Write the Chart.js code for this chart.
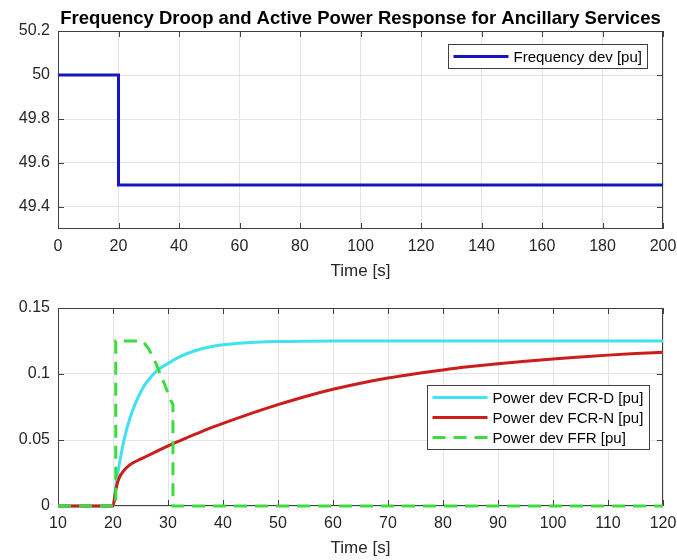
<!DOCTYPE html>
<html>
<head>
<meta charset="utf-8">
<script src="https://cdn.jsdelivr.net/npm/chart.js@4.4.0/dist/chart.umd.min.js"></script>
<style>
  html, body { margin: 0; padding: 0; background: #fff; }
  #wrap { position: relative; width: 677px; height: 560px; }
  .panel { position: absolute; left: 0; width: 677px; }
  #top { top: 0; height: 285px; }
  #bottom { top: 290px; height: 270px; }
</style>
</head>
<body>
<div id="wrap">
  <div class="panel" id="top"><canvas id="freqChart"></canvas></div>
  <div class="panel" id="bottom"><canvas id="powerChart"></canvas></div>
</div>
<script>
// Top panel: frequency step
const freqTime = [0, 20, 20, 200];
const freqValues = [50, 50, 49.5, 49.5];
const freqXTicks = [0, 20, 40, 60, 80, 100, 120, 140, 160, 180, 200];
const freqYTicks = [49.4, 49.6, 49.8, 50, 50.2];

// Bottom panel: power responses
const powerTime = [10, 20, 20.5, 21, 22, 23, 24, 25, 26, 28, 30, 32, 34, 36, 38, 40,
  45, 50, 55, 60, 65, 70, 75, 80, 85, 90, 95, 100, 105, 110, 115, 120];
const fcrD = [0, 0, 0.0146, 0.028, 0.050, 0.0655, 0.077, 0.086, 0.093, 0.1025, 0.108, 0.1128, 0.1163, 0.1189, 0.1208, 0.1221,
  0.1239, 0.1246, 0.1249, 0.125, 0.125, 0.125, 0.125, 0.125, 0.125, 0.125, 0.125, 0.125, 0.125, 0.125, 0.125, 0.125];
const fcrN = [0, 0, 0.012, 0.020, 0.027, 0.031, 0.0335, 0.0355, 0.0375, 0.0415, 0.0455, 0.0492, 0.0528, 0.0562, 0.0595, 0.0626,
  0.0700, 0.0768, 0.0830, 0.0884, 0.0930, 0.0969, 0.1002, 0.1031, 0.1056, 0.1078, 0.1097, 0.1114, 0.1129, 0.1143, 0.1155, 0.1165];
const ffrTime = [10, 20.5, 20.5, 25.4, 26.5, 27.8, 29.3, 30.5, 30.9, 30.9, 120];
const ffrValues = [0, 0, 0.125, 0.125, 0.119, 0.108, 0.093, 0.080, 0.077, 0, 0];
const powerXTicks = [10, 20, 30, 40, 50, 60, 70, 80, 90, 100, 110, 120];
const powerYTicks = [0, 0.05, 0.1, 0.15];

const FONT = '"Liberation Sans", Arial, Helvetica, sans-serif';
const AXIS_COLOR = '#404040';

function toPoints(xs, ys) {
  return xs.map((x, i) => ({ x: x, y: ys[i] }));
}

// MATLAB style box with inward ticks
const matlabAxes = {
  id: 'matlabAxes',
  beforeDatasetsDraw(chart) {
    const { ctx, chartArea: a, scales: { x, y } } = chart;
    ctx.save();
    ctx.strokeStyle = AXIS_COLOR;
    ctx.lineWidth = 1;
    ctx.beginPath();
    x.ticks.forEach(t => {
      const px = Math.round(x.getPixelForValue(t.value)) + 0.5;
      ctx.moveTo(px, a.bottom); ctx.lineTo(px, a.bottom - 6);
      ctx.moveTo(px, a.top); ctx.lineTo(px, a.top + 6);
    });
    y.ticks.forEach(t => {
      const py = Math.round(y.getPixelForValue(t.value)) + 0.5;
      ctx.moveTo(a.left, py); ctx.lineTo(a.left + 6, py);
      ctx.moveTo(a.right, py); ctx.lineTo(a.right - 6, py);
    });
    ctx.stroke();
    ctx.strokeRect(Math.round(a.left) + 0.5, Math.round(a.top) + 0.5,
      Math.round(a.width) - 1, Math.round(a.height) - 1);
    ctx.restore();
  }
};

// Title centred over the axes, like MATLAB does
const axesTitle = {
  id: 'axesTitle',
  afterDraw(chart, args, opts) {
    if (!opts.text) return;
    const { ctx, chartArea: a } = chart;
    ctx.save();
    ctx.font = 'bold 18.5px ' + FONT;
    ctx.fillStyle = '#000';
    ctx.textAlign = 'center';
    ctx.textBaseline = 'alphabetic';
    ctx.fillText(opts.text, (a.left + a.right) / 2, opts.y);
    ctx.restore();
  }
};

// Legend box inside the axes (top right)
const boxLegend = {
  id: 'boxLegend',
  afterDraw(chart, args, opts) {
    const { ctx, chartArea: a } = chart;
    const sets = chart.data.datasets;
    ctx.save();
    ctx.font = '15px ' + FONT;
    const textW = Math.max(...sets.map(d => ctx.measureText(d.label).width));
    const lineLen = 55, rowH = 20;
    const w = Math.round(5 + lineLen + 5 + textW + 6);
    const h = sets.length * rowH + 4;
    const x0 = Math.round(a.right - opts.right - w) + 0.5;
    const y0 = Math.round(a.top + opts.top) + 0.5;
    ctx.fillStyle = '#fff';
    ctx.fillRect(x0, y0, w, h);
    ctx.strokeStyle = AXIS_COLOR;
    ctx.lineWidth = 1;
    ctx.strokeRect(x0, y0, w, h);
    sets.forEach((d, i) => {
      const cy = y0 + 2 + rowH * i + rowH / 2;
      ctx.strokeStyle = d.borderColor;
      ctx.lineWidth = d.borderWidth;
      ctx.setLineDash(d.borderDash || []);
      ctx.beginPath();
      ctx.moveTo(x0 + 5, cy);
      ctx.lineTo(x0 + 5 + lineLen, cy);
      ctx.stroke();
      ctx.setLineDash([]);
      ctx.fillStyle = '#000';
      ctx.textBaseline = 'middle';
      ctx.fillText(d.label, x0 + 10 + lineLen, cy + 1);
    });
    ctx.restore();
  }
};

function xScale(min, max, ticks, titleBottomPad, height) {
  return {
    type: 'linear',
    min: min,
    max: max,
    afterBuildTicks: s => { s.ticks = ticks.map(v => ({ value: v })); },
    afterFit: s => { s.height = height; s.paddingLeft = 0; s.paddingRight = 0; },
    grid: { color: '#e4e4e4', drawTicks: false },
    border: { display: false },
    ticks: { color: '#262626', font: { family: FONT, size: 16 }, padding: 8, maxRotation: 0,
      callback: v => String(v) },
    title: { display: true, text: 'Time [s]', color: '#262626',
      font: { family: FONT, size: 17 }, padding: { top: 0, bottom: titleBottomPad } }
  };
}

function yScale(min, max, ticks) {
  return {
    type: 'linear',
    min: min,
    max: max,
    afterBuildTicks: s => { s.ticks = ticks.map(v => ({ value: v })); },
    afterFit: s => { s.width = 58; },
    grid: { color: '#e4e4e4', drawTicks: false },
    border: { display: false },
    ticks: { color: '#262626', font: { family: FONT, size: 16 }, padding: 8,
      callback: v => String(v) }
  };
}

function lineSet(label, pts, color, width, dash, order, smooth) {
  return {
    label: label,
    data: pts,
    borderColor: color,
    backgroundColor: color,
    borderWidth: width,
    borderDash: dash || [],
    pointRadius: 0,
    tension: 0,
    cubicInterpolationMode: smooth ? 'monotone' : 'default',
    fill: false,
    order: order || 0,
    clip: 4
  };
}

new Chart(document.getElementById('freqChart'), {
  type: 'line',
  data: {
    datasets: [lineSet('Frequency dev [pu]', toPoints(freqTime, freqValues), '#1616c0', 3)]
  },
  options: {
    responsive: true,
    maintainAspectRatio: false,
    animation: false,
    layout: { padding: { left: 0, right: 14, top: 31, bottom: 0 } },
    scales: {
      x: xScale(0, 200, freqXTicks, 3, 56),
      y: yScale(49.3, 50.2, freqYTicks)
    },
    plugins: {
      legend: { display: false },
      tooltip: { enabled: false },
      title: { display: false },
      axesTitle: { text: 'Frequency Droop and Active Power Response for Ancillary Services', y: 23.5 },
      boxLegend: { right: 16, top: 13 }
    }
  },
  plugins: [matlabAxes, axesTitle, boxLegend]
});

new Chart(document.getElementById('powerChart'), {
  type: 'line',
  data: {
    datasets: [
      lineSet('Power dev FCR-D [pu]', toPoints(powerTime, fcrD), '#3fe2ef', 3, null, 3, true),
      lineSet('Power dev FCR-N [pu]', toPoints(powerTime, fcrN), '#cc1c1c', 3, null, 2, true),
      lineSet('Power dev FFR [pu]', toPoints(ffrTime, ffrValues), '#3cdc3c', 3, [13, 8], 1)
    ]
  },
  options: {
    responsive: true,
    maintainAspectRatio: false,
    animation: false,
    layout: { padding: { left: 0, right: 14, top: 18, bottom: 0 } },
    scales: {
      x: xScale(10, 120, powerXTicks, 1, 54),
      y: yScale(0, 0.15, powerYTicks)
    },
    plugins: {
      legend: { display: false },
      tooltip: { enabled: false },
      title: { display: false },
      boxLegend: { right: 14, top: 77 }
    }
  },
  plugins: [matlabAxes, axesTitle, boxLegend]
});
</script>
</body>
</html>
